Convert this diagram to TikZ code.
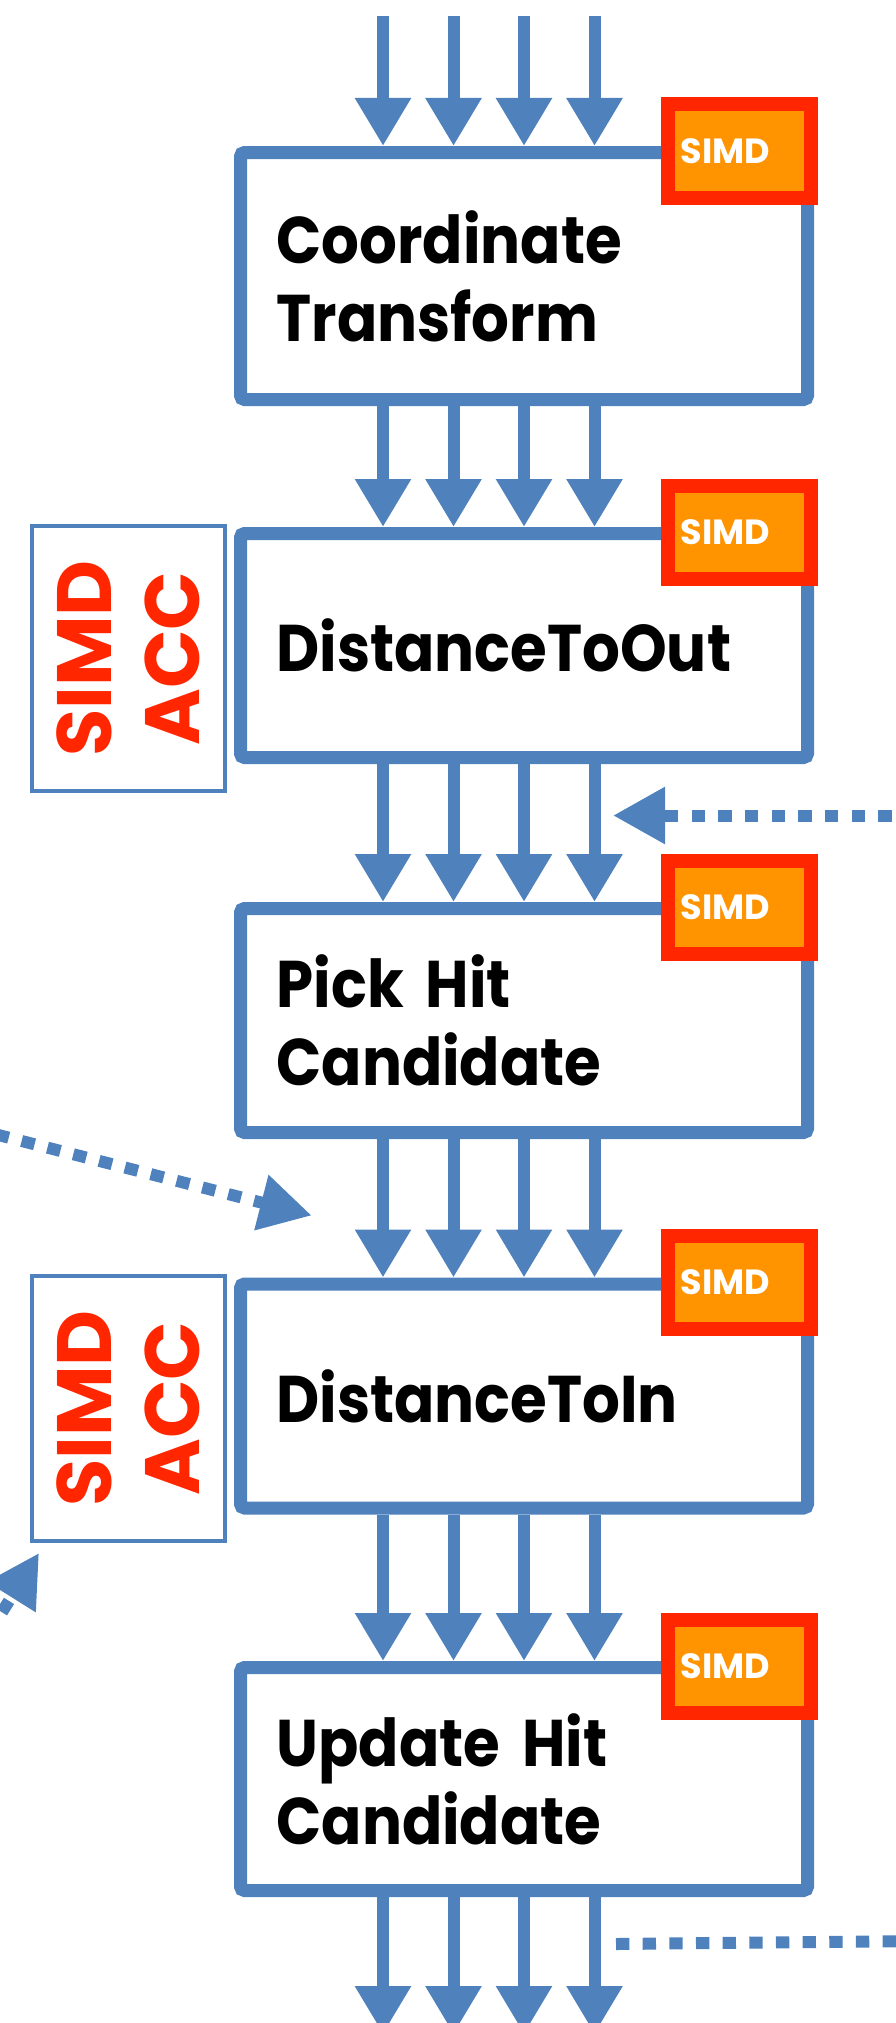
\documentclass[tikz,border=0pt]{standalone}
\usepackage{fontspec}
\setmainfont{Poppins}
\newfontfamily\stagefont{Poppins}[FakeStretch=0.9]
\usetikzlibrary{arrows.meta,calc}
\definecolor{flowblue}{RGB}{79,129,189}
\definecolor{simdred}{RGB}{255,38,0}
\definecolor{simdorange}{RGB}{255,148,0}
\begin{document}
\begin{tikzpicture}[x=1pt,y=-1pt,
  stage/.style={draw=flowblue, line width=13pt, rounded corners=4pt, fill=white,
    minimum width=567pt, text width=495pt, inner xsep=36pt, inner ysep=0pt,
    align=left, font=\stagefont\bfseries\fontsize{66}{78}\selectfont},
  simdtag/.style={draw=simdred, line width=14pt, fill=simdorange,
    minimum width=143pt, minimum height=93pt, inner sep=0pt, text width=118pt,
    align=left, text=white, font=\bfseries\fontsize{35}{35}\selectfont},
  accbox/.style={draw=flowblue, line width=4pt, fill=white, rotate=90,
    minimum width=265pt, minimum height=193pt, inner sep=0pt, align=center,
    text=simdred, font=\bfseries\fontsize{77}{88}\selectfont},
  flow/.style={draw=flowblue, line width=12pt, -{Triangle[length=48pt,width=53pt]}},
  dotflow/.style={draw=flowblue, line width=12pt, dash pattern=on 13.33pt off 13.33pt},
  dotarrow/.style={dotflow, -{Triangle[length=52pt,width=54pt]}}
]
\useasboundingbox (0,0) rectangle (896,2023);

% pipeline stages
\node[stage, minimum height=247pt] (b1) at (524,276)    {Coordinate\\Transform};
\node[stage, minimum height=224pt] (b2) at (524,645.5)  {DistanceToOut};
\node[stage, minimum height=224pt] (b3) at (524,1020.5) {Pick Hit\\Candidate};
\node[stage, minimum height=224pt] (b4) at (524,1396)   {DistanceToIn};
\node[stage, minimum height=223pt] (b5) at (524,1779)   {Update Hit\\Candidate};

% vectorised stage tags
\foreach \b in {b1,b2,b3,b4,b5}
  \node[simdtag] (s\b) at ($(\b.north)+(215.5,5)$) {SIMD};

% accelerated stages
\node[accbox] (a1) at (128.5,658.5)  {SIMD\\ACC};
\node[accbox] (a2) at (128.5,1408.5) {SIMD\\ACC};

% four lanes flowing through the pipeline
\foreach \dx [count=\i] in {-141,-70.5,0,70.5} {
  \coordinate (in\i) at (524+\dx,16);
  \coordinate (out\i) at (524+\dx,2034);
  \draw[flow] (in\i) -- ($(b1.north)+(\dx,0)$);
  \draw[flow] ($(b1.south)+(\dx,0)$) -- ($(b2.north)+(\dx,0)$);
  \draw[flow] ($(b2.south)+(\dx,0)$) -- ($(b3.north)+(\dx,0)$);
  \draw[flow] ($(b3.south)+(\dx,0)$) -- ($(b4.north)+(\dx,0)$);
  \draw[flow] ($(b4.south)+(\dx,0)$) -- ($(b5.north)+(\dx,0)$);
  \draw[flow] ($(b5.south)+(\dx,0)$) -- (out\i);
}

% dotted feeds in and out of the pipeline
\coordinate (feedR)  at (945,815.5);
\coordinate (joinR)  at ($(b2.south)+(89,51.5)$);
\draw[dotarrow] (feedR) -- (joinR);

\coordinate (feedL)  at (-30,1127.7);
\coordinate (joinL)  at ($(b4.north)+(-212.3,-62)$);
\draw[dotarrow] (feedL) -- (joinL);

\coordinate (feedLL) at (-40.5,1680);
\coordinate (joinLL) at (39,1553);
\draw[dotarrow] (feedLL) -- (joinLL);

\coordinate (leaveA) at (616,1944);
\coordinate (leaveB) at (920,1941);
\draw[dotflow] (leaveA) -- (leaveB);
\end{tikzpicture}
\end{document}
